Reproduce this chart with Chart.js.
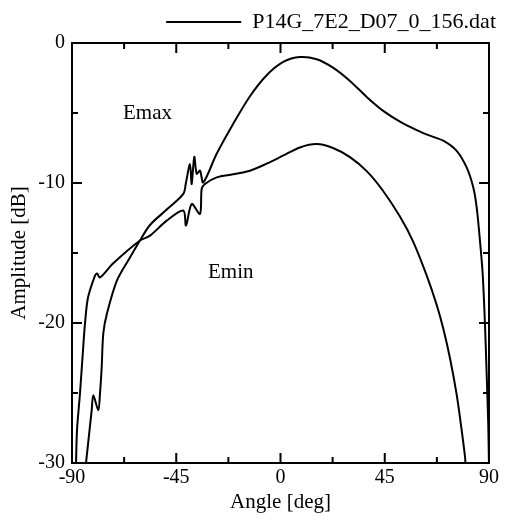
<!DOCTYPE html>
<html>
<head>
<meta charset="utf-8">
<script src="https://cdn.jsdelivr.net/npm/chart.js@4.4.1/dist/chart.umd.min.js"></script>
<style>
  html, body { margin: 0; padding: 0; background: #ffffff; }
  #c { display: block; }
</style>
</head>
<body>
<canvas id="c" width="511" height="529"></canvas>
<script>
// ---- data ----
const seriesLabel = 'P14G_7E2_D07_0_156.dat';

// curve that rises through the main peak (about -1 dB)
const upperAngle = [-83.96, -81.5, -80.8, -78.65, -77.92, -77.18, -76.49, -74.89, -70.58, -64.97,
  -60.65, -56.34, -49.13, -41.96, -40.80, -39.07, -38.34, -37.22, -36.18, -34.76,
  -33.33, -27.55, -20.51, -13.18, -5.97, 1.20, 8.40, 15.61, 22.65, 29.98,
  37.19, 44.35, 51.56, 58.77, 64.5, 70.25, 76.03, 80.35, 83.20, 84.67,
  86.09, 87.26, 88.25, 88.98, 89.67, 89.97];
const upperAmp = [-30.0, -26.23, -25.16, -26.23, -25.04, -23.14, -20.74, -19.31, -16.96, -15.32,
  -14.11, -13.0, -11.9, -10.78, -9.96, -8.65, -10.07, -8.13, -9.34, -9.12,
  -9.96, -7.91, -5.8, -3.8, -2.3, -1.35, -1.0, -1.16, -1.76, -2.71,
  -3.85, -4.85, -5.62, -6.22, -6.62, -6.98, -7.70, -8.89, -10.31, -11.73,
  -14.11, -16.46, -20.03, -23.59, -27.15, -30.0];

// curve that passes through the lower peak (about -7.2 dB)
const lowerAngle = [-88.27, -87.84, -86.55, -85.25, -84.39, -83.09, -80.07, -79.21, -77.92, -72.3,
  -60.65, -56.34, -49.13, -41.96, -40.80, -38.34, -34.76, -34.02, -32.60, -27.55,
  -20.5, -13.18, -6.0, 1.07, 8.40, 15.61, 22.65, 29.98, 37.19, 44.0,
  51.56, 57.30, 63.09, 67.40, 70.25, 73.14, 76.03, 78.0, 79.62, 79.85];
const lowerAmp = [-30.0, -27.65, -25.02, -21.95, -20.03, -18.18, -16.61, -16.46, -16.75, -15.75,
  -14.11, -13.76, -12.69, -11.97, -13.04, -11.50, -12.21, -10.41, -10.07, -9.60,
  -9.38, -9.12, -8.62, -8.05, -7.46, -7.22, -7.5, -8.15, -9.15, -10.5,
  -12.4, -14.2, -16.6, -18.7, -20.4, -22.5, -25.1, -27.4, -29.5, -30.0];

const xTicks = [-90, -45, 0, 45, 90];
const yTicks = [0, -10, -20, -30];

// in-plot text labels, in data coordinates
const noteText = ['Emax', 'Emin'];
const noteAngle = [-68.0, -31.3];
const noteAmp = [-5.06, -16.4];

// ---- build ----
const toPts = (xs, ys) => xs.map((x, i) => ({ x: x, y: ys[i] }));
const SERIF = "'Liberation Serif', 'DejaVu Serif', serif";

const frameAndTicks = {
  id: 'frameAndTicks',
  afterDatasetsDraw(chart) {
    const { ctx, chartArea: a, scales } = chart;
    const xs = scales.x, ys = scales.y;
    ctx.save();
    ctx.strokeStyle = '#000';
    ctx.lineWidth = 2;
    ctx.strokeRect(a.left, a.top, a.right - a.left, a.bottom - a.top);
    const major = 10, minor = 6;
    const xMaj = xs.ticks.map(t => t.value);
    const yMaj = ys.ticks.map(t => t.value);
    const mids = v => v.slice(1).map((t, i) => (t + v[i]) / 2);
    ctx.beginPath();
    const xt = (vals, len) => vals.forEach(v => {
      const p = xs.getPixelForValue(v);
      ctx.moveTo(p, a.bottom); ctx.lineTo(p, a.bottom - len);
      ctx.moveTo(p, a.top); ctx.lineTo(p, a.top + len);
    });
    const yt = (vals, len) => vals.forEach(v => {
      const p = ys.getPixelForValue(v);
      ctx.moveTo(a.left, p); ctx.lineTo(a.left + len, p);
      ctx.moveTo(a.right, p); ctx.lineTo(a.right - len, p);
    });
    xt(xMaj, major); xt(mids(xMaj), minor);
    yt(yMaj, major); yt(mids(yMaj), minor);
    ctx.stroke();
    ctx.fillStyle = '#000';
    ctx.font = '21px ' + SERIF;
    ctx.textAlign = 'left';
    ctx.textBaseline = 'middle';
    noteText.forEach((t, i) => {
      ctx.fillText(t, xs.getPixelForValue(noteAngle[i]), ys.getPixelForValue(noteAmp[i]));
    });
    ctx.restore();
  }
};

new Chart(document.getElementById('c'), {
  type: 'line',
  data: {
    datasets: [
      { label: seriesLabel, data: toPts(upperAngle, upperAmp), borderColor: '#000', backgroundColor: '#000',
        borderWidth: 2, pointRadius: 0, tension: 0.3, fill: false },
      { label: seriesLabel, data: toPts(lowerAngle, lowerAmp), borderColor: '#000', backgroundColor: '#000',
        borderWidth: 2, pointRadius: 0, tension: 0.3, fill: false }
    ]
  },
  options: {
    responsive: false,
    animation: false,
    devicePixelRatio: 1,
    layout: { padding: { top: 1, right: 5, bottom: 0, left: 0 } },
    plugins: {
      tooltip: { enabled: false },
      legend: {
        display: true,
        position: 'top',
        align: 'end',
        labels: {
          filter: item => item.datasetIndex === 0,
          usePointStyle: true,
          pointStyle: 'line',
          pointStyleWidth: 75,
          color: '#000',
          font: { family: SERIF, size: 22 }
        }
      }
    },
    scales: {
      x: {
        type: 'linear',
        min: -90, max: 90,
        afterBuildTicks: s => { s.ticks = xTicks.map(v => ({ value: v })); },
        ticks: { color: '#000', font: { family: SERIF, size: 20 }, padding: 3, maxRotation: 0 },
        grid: { display: false, drawTicks: false },
        border: { display: false },
        title: { display: true, text: 'Angle [deg]', color: '#000', font: { family: SERIF, size: 21 }, padding: { bottom: 14, top: 0 } },
        afterFit: s => { s.height = 66; }
      },
      y: {
        type: 'linear',
        min: -30, max: 0,
        afterBuildTicks: s => { s.ticks = yTicks.map(v => ({ value: v })); },
        ticks: { color: '#000', font: { family: SERIF, size: 20 }, padding: 7 },
        grid: { display: false, drawTicks: false },
        border: { display: false },
        title: { display: true, text: 'Amplitude [dB]', color: '#000', font: { family: SERIF, size: 21 }, padding: { top: 7, bottom: 0 } },
        afterFit: s => { s.width = 72; }
      },
      y2: {
        type: 'linear',
        position: 'right',
        min: -30, max: 0,
        ticks: { display: false },
        grid: { display: false, drawTicks: false },
        border: { display: false },
        afterFit: s => { s.width = 17; }
      }
    }
  },
  plugins: [frameAndTicks]
});
</script>
</body>
</html>
